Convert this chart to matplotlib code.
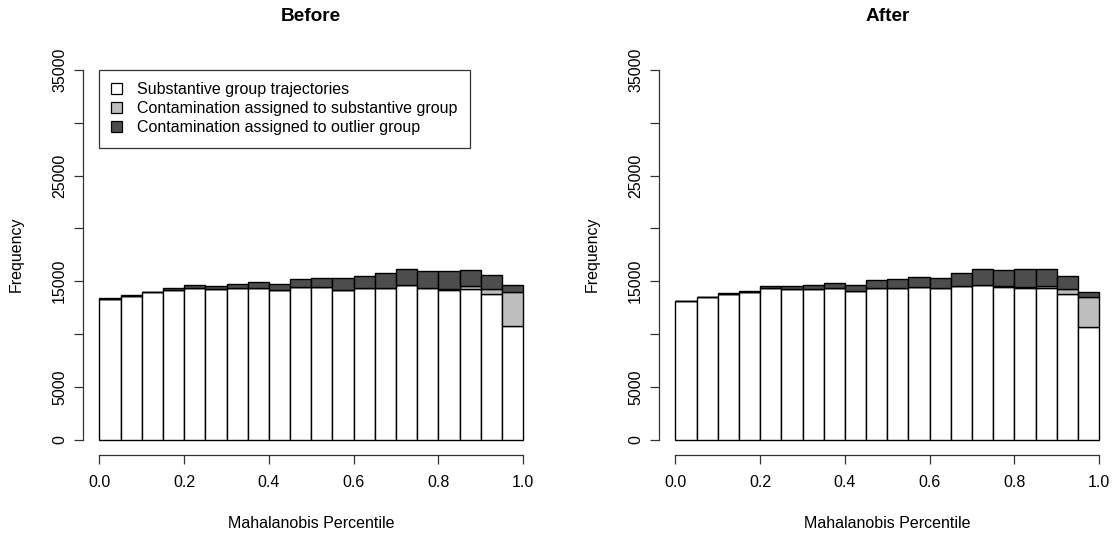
import numpy as np
import matplotlib
matplotlib.use("Agg")
import matplotlib.pyplot as plt
from matplotlib.patches import Patch

plt.rcParams['font.family'] = ['Liberation Sans', 'DejaVu Sans']

# ---- data ----
bin_edges = np.linspace(0, 1, 21)
series_labels = ["Substantive group trajectories",
                 "Contamination assigned to substantive group",
                 "Contamination assigned to outlier group"]
panel_titles = ["Before", "After"]

before_substantive = [13340, 13620, 13940, 14190, 14410, 14250, 14320, 14410, 14130, 14470,
                      14470, 14190, 14350, 14380, 14650, 14320, 14130, 14300, 13770, 10800]
before_contam_sub = [0, 0, 0, 0, 0, 0, 0, 0, 0, 0,
                     0, 0, 0, 0, 0, 40, 100, 230, 480, 3200]
before_contam_out = [40, 60, 60, 130, 220, 320, 470, 570, 660, 790,
                     880, 1110, 1170, 1390, 1550, 1630, 1730, 1520, 1330, 630]

after_substantive = [13150, 13500, 13840, 14030, 14410, 14280, 14250, 14380, 14060, 14410,
                     14410, 14470, 14320, 14570, 14690, 14470, 14350, 14350, 13840, 10690]
after_contam_sub = [0, 0, 0, 0, 0, 0, 0, 0, 0, 0,
                    0, 0, 0, 0, 0, 40, 90, 250, 410, 2870]
after_contam_out = [30, 30, 30, 95, 190, 280, 410, 470, 570, 690,
                    820, 950, 1040, 1260, 1510, 1540, 1680, 1580, 1290, 440]

yticks = [0, 5000, 10000, 15000, 20000, 25000, 30000, 35000]
ytick_labels = ["0", "5000", "", "15000", "", "25000", "", "35000"]
xticks = [0.0, 0.2, 0.4, 0.6, 0.8, 1.0]
xtick_labels = ["0.0", "0.2", "0.4", "0.6", "0.8", "1.0"]

colors = ["white", "#BEBEBE", "#4D4D4D"]

W, H = 1112, 536
fig = plt.figure(figsize=(W / 100, H / 100), dpi=100)

def px_axes(x0, x1, ytop, ybot):
    return fig.add_axes([x0 / W, 1 - ybot / H, (x1 - x0) / W, (ybot - ytop) / H])

panels = [
    (px_axes(82.5, 540, 55.3, 454.5), before_substantive, before_contam_sub, before_contam_out),
    (px_axes(658.5, 1116, 55.3, 454.5), after_substantive, after_contam_sub, after_contam_out),
]

fs = 11.5
left = bin_edges[:-1]
width = np.diff(bin_edges)

for i, (ax, sub, csub, cout) in enumerate(panels):
    sub = np.array(sub); csub = np.array(csub); cout = np.array(cout)
    ax.bar(left, sub, width=width, align='edge', color=colors[0], edgecolor='black', linewidth=1.0)
    ax.bar(left, csub, width=width, bottom=sub, align='edge', color=colors[1], edgecolor='black', linewidth=1.0)
    ax.bar(left, cout, width=width, bottom=sub + csub, align='edge', color=colors[2], edgecolor='black', linewidth=1.0)

    ax.set_xlim(-0.04, 1.04)
    ax.set_ylim(-1400, 36400)
    for s in ['top', 'right']:
        ax.spines[s].set_visible(False)
    ax.spines['bottom'].set_bounds(0, 1)
    ax.spines['left'].set_bounds(0, 35000)
    for s in ['bottom', 'left']:
        ax.spines[s].set_linewidth(0.9)
        ax.spines[s].set_color('#333333')
    ax.set_xticks(xticks)
    ax.set_xticklabels(xtick_labels)
    ax.set_yticks(yticks)
    ax.set_yticklabels(ytick_labels, rotation=90, va='center')
    ax.tick_params(axis='both', direction='out', length=6.5, width=0.9, color='#333333',
                   labelsize=fs)
    ax.tick_params(axis='x', pad=8.5)
    ax.tick_params(axis='y', pad=4.5)

    pos = ax.get_position()
    cx = (pos.x0 + pos.x1) / 2
    fig.text(cx, 1 - 16.5 / H, panel_titles[i], ha='center', va='center',
             fontsize=13.7, fontweight='bold')
    fig.text(cx, 1 - 523 / H, "Mahalanobis Percentile", ha='center', va='center', fontsize=fs)
    fig.text((16 if i == 0 else 592) / W, 1 - 254 / H, "Frequency", rotation=90,
             ha='center', va='center', fontsize=fs)

# legend on first panel
ax0 = panels[0][0]
handles = [Patch(facecolor=c, edgecolor='black', linewidth=0.9) for c in colors]
leg = ax0.legend(handles, series_labels, loc='upper left',
                 bbox_to_anchor=(99 / W, 1 - 70 / H), bbox_transform=fig.transFigure,
                 fontsize=fs, frameon=True, fancybox=False, edgecolor='black',
                 handlelength=0.69, handleheight=0.69, handletextpad=0.94,
                 labelspacing=0.25, borderpad=0.78, borderaxespad=0)
leg.get_frame().set_linewidth(0.9)

fig.savefig("out.png", dpi=100)
